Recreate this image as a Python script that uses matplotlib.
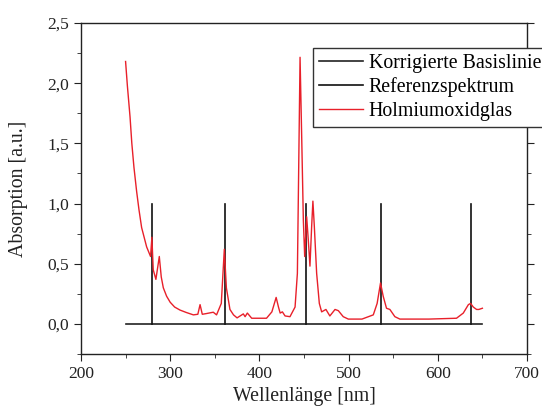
import matplotlib
matplotlib.use("Agg")
import matplotlib.pyplot as plt
from matplotlib.ticker import MultipleLocator, FuncFormatter

# Referenzlinien (Holmiumoxid-Banden)
ref_nm = [279.5, 361.0, 452.5, 536.3, 637.0]
ref_height = 1.0
basis_nm = [250, 650]
basis_abs = [0.0, 0.0]

wl = [250, 252, 255, 257, 259.4, 262.4, 265, 268, 273.6, 278, 279.5, 281, 284, 287.8, 290, 292.3,
      296, 300, 305, 311, 318, 326, 331, 333.5, 336, 340, 348.3, 352, 357.3, 360.7, 363, 367, 371,
      375, 382, 384, 386.5, 391.4, 408, 414, 418.8, 421.4, 423.3, 425.8, 428.8, 434.3,
      440, 442.6, 444, 445.6, 447.5, 449.3, 450.8, 453, 454.8, 456.7, 458.6, 460,
      461.6, 464.2, 467.2, 469.8, 474.6, 479, 484.8, 488.5, 494, 499.7, 515, 527.7,
      532, 535.8, 538.8, 542.5, 546.3, 551.9, 557.5, 590, 621, 628.6, 634.3, 636.8,
      639.8, 643.5, 646, 650]
absorb = [2.18, 1.98, 1.72, 1.50, 1.30, 1.10, 0.95, 0.80, 0.64, 0.56, 0.72, 0.45, 0.37, 0.56, 0.39, 0.30,
          0.23, 0.18, 0.14, 0.115, 0.095, 0.075, 0.08, 0.16, 0.08, 0.085, 0.097, 0.075, 0.17, 0.62, 0.30, 0.12, 0.075,
          0.05, 0.083, 0.06, 0.09, 0.047, 0.047, 0.10, 0.22, 0.14, 0.09, 0.10, 0.066, 0.06,
          0.14, 0.42, 1.25, 2.215, 1.53, 0.86, 0.56, 0.89, 0.70, 0.48, 0.81, 1.02,
          0.81, 0.42, 0.17, 0.10, 0.12, 0.066, 0.12, 0.11, 0.06, 0.04, 0.04, 0.075,
          0.17, 0.34, 0.23, 0.13, 0.12, 0.06, 0.04, 0.04, 0.047, 0.09, 0.16, 0.17,
          0.14, 0.12, 0.12, 0.13]

plt.rcParams['font.family'] = ['Liberation Serif', 'DejaVu Serif']

fig = plt.figure(figsize=(5.42, 4.12), dpi=100)
ax = fig.add_axes([0.1494, 0.1408, 0.8229, 0.8034])

h_basis, = ax.plot(basis_nm, basis_abs, color='#222222', lw=1.2, label='Korrigierte Basislinie')
h_ref = None
for x in ref_nm:
    h_ref, = ax.plot([x, x], [0, ref_height], color='#111111', lw=1.2, label='Referenzspektrum')
h_ho, = ax.plot(wl, absorb, color='#e8202a', lw=1.0, label='Holmiumoxidglas')

ax.set_xlim(200, 700)
ax.set_ylim(-0.25, 2.5)
ax.xaxis.set_major_locator(MultipleLocator(100))
ax.xaxis.set_minor_locator(MultipleLocator(50))
ax.yaxis.set_major_locator(MultipleLocator(0.5))
ax.yaxis.set_minor_locator(MultipleLocator(0.25))
ax.yaxis.set_major_formatter(FuncFormatter(lambda v, p: f"{v:.1f}".replace('.', ',')))

ax.tick_params(which='both', direction='out', right=True, top=False, labelsize=12.5, colors='#222222')
ax.tick_params(which='major', length=5)
ax.tick_params(which='minor', length=3)
for s in ax.spines.values():
    s.set_color('#222222')
    s.set_linewidth(1.0)

ax.set_xlabel('Wellenlänge [nm]', fontsize=14.3, color='#222222')
ax.set_ylabel('Absorption [a.u.]', fontsize=14.3, color='#222222')
ax.yaxis.set_label_coords(-0.119, 0.5)

leg = fig.legend(handles=[h_basis, h_ref, h_ho], loc='upper left',
                 bbox_to_anchor=(313 / 542, 1 - 48 / 412), borderaxespad=0, fontsize=14.3,
                 fancybox=False, edgecolor='#333333', framealpha=1,
                 handlelength=2.2, handletextpad=0.3, borderpad=0.3, labelspacing=0.22)
leg.get_frame().set_linewidth(1.0)

fig.savefig('out.png', dpi=100)
